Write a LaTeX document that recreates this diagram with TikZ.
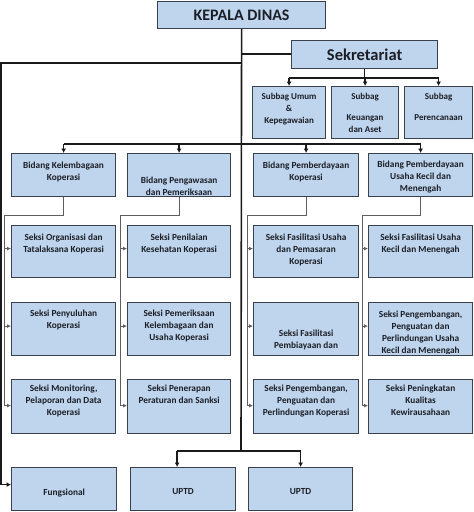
\documentclass[tikz,border=0pt]{standalone}
\usepackage{fontspec}
\setmainfont{Carlito}
\usetikzlibrary{positioning,arrows.meta}

\definecolor{boxfill}{RGB}{190,213,237}
\definecolor{boxline}{RGB}{58,64,76}
\definecolor{boxtext}{RGB}{28,30,38}
\definecolor{mainline}{RGB}{26,26,26}
\definecolor{subline}{RGB}{95,95,95}

\begin{document}
\begin{tikzpicture}[x=1pt, y=-1pt,
    main/.style={draw=mainline, line width=1.6pt},
    mainarrow/.style={main, -{Latex[length=4.5pt,width=5pt]}},
    sub/.style={draw=subline, line width=0.9pt},
    subarrow/.style={sub, -{Latex[length=4pt,width=4pt]}},
    txt/.style={anchor=north, inner sep=0pt, align=center, text=boxtext, font=\bfseries\fontsize{9.3}{12}\selectfont},
    subtxt/.style={txt, font=\bfseries\fontsize{9}{12}\selectfont}]
  \useasboundingbox (0,0) rectangle (474,512);

  % Boxes
  \begin{scope}[every node/.style={draw=boxline, fill=boxfill, line width=1.2pt, anchor=north west, inner sep=0pt, text=boxtext}]
    \node[minimum width=168, minimum height=27, font=\bfseries\fontsize{16}{19}\selectfont] (kepala) at (157,1) {KEPALA DINAS};
    \node[minimum width=146, minimum height=28, font=\bfseries\fontsize{16.5}{19}\selectfont] (sekr) at (291,40) {Sekretariat};

    \node[minimum width=73, minimum height=52] (sub1) at (252,86) {};
    \node[minimum width=67, minimum height=52] (sub2) at (331,86) {};
    \node[minimum width=68, minimum height=52] (sub3) at (404,86) {};

    \node[minimum width=104, minimum height=43] (bkel) at (11,153) {};
    \node[minimum width=103, minimum height=43] (bpeng) at (127,153) {};
    \node[minimum width=105, minimum height=43] (bkop) at (253,153) {};
    \node[minimum width=104, minimum height=43] (bukm) at (368,153) {};

    \node[minimum width=104, minimum height=52] (s11) at (11,225) {};
    \node[minimum width=104, minimum height=53] (s12) at (11,302) {};
    \node[minimum width=104, minimum height=54] (s13) at (11,379) {};

    \node[minimum width=103, minimum height=52] (s21) at (127,225) {};
    \node[minimum width=103, minimum height=53] (s22) at (127,302) {};
    \node[minimum width=103, minimum height=54] (s23) at (127,379) {};

    \node[minimum width=105, minimum height=52] (s31) at (253,225) {};
    \node[minimum width=105, minimum height=53] (s32) at (253,302) {};
    \node[minimum width=105, minimum height=54] (s33) at (253,379) {};

    \node[minimum width=104, minimum height=52] (s41) at (368,225) {};
    \node[minimum width=104, minimum height=53] (s42) at (368,302) {};
    \node[minimum width=104, minimum height=54] (s43) at (368,379) {};

    \node[minimum width=105, minimum height=43] (fung) at (11,467) {};
    \node[minimum width=105, minimum height=43] (uptd1) at (130,467) {};
    \node[minimum width=104, minimum height=43] (uptd2) at (248,467) {};
  \end{scope}

  % Texts
  \node[subtxt, below=6.7pt of sub1.north] (sub1-t) {Subbag Umum\\\&\\Kepegawaian};
  \node[subtxt, below=6.7pt of sub2.north] (sub2-t) {Subbag\\[9pt]Keuangan\\dan Aset};
  \node[subtxt, below=6.7pt of sub3.north] (sub3-t) {Subbag\\[9pt]Perencanaan};

  \node[txt, below=8.7pt of bkel.north] (bkel-t) {Bidang Kelembagaan\\Koperasi};
  \begin{scope}
    \clip ([yshift=2.5pt]bpeng.south west) rectangle (bpeng.north east);
    \node[txt, below=24pt of bpeng.north] (bpeng-t) {Bidang Pengawasan\\dan Pemeriksaan};
  \end{scope}
  \node[txt, below=8.7pt of bkop.north] (bkop-t) {Bidang Pemberdayaan\\Koperasi};
  \node[txt, below=7.7pt of bukm.north] (bukm-t) {Bidang Pemberdayaan\\Usaha Kecil dan\\Menengah};

  \node[txt, below=8.7pt of s11.north] (s11-t) {Seksi Organisasi dan\\Tatalaksana Koperasi};
  \node[txt, below=7.7pt of s12.north] (s12-t) {Seksi Penyuluhan\\Koperasi};
  \node[txt, below=5.7pt of s13.north] (s13-t) {Seksi Monitoring,\\Pelaporan dan Data\\Koperasi};

  \node[txt, below=8.7pt of s21.north] (s21-t) {Seksi Penilaian\\Kesehatan Koperasi};
  \node[txt, below=7.7pt of s22.north] (s22-t) {Seksi Pemeriksaan\\Kelembagaan dan\\Usaha Koperasi};
  \node[txt, below=5.7pt of s23.north] (s23-t) {Seksi Penerapan\\Peraturan dan Sanksi};

  \node[txt, below=8.7pt of s31.north] (s31-t) {Seksi Fasilitasi Usaha\\dan Pemasaran\\Koperasi};
  \node[txt, below=27.7pt of s32.north] (s32-t) {Seksi Fasilitasi\\Pembiayaan dan};
  \node[txt, below=5.7pt of s33.north] (s33-t) {Seksi Pengembangan,\\Penguatan dan\\Perlindungan Koperasi};

  \node[txt, below=8.7pt of s41.north] (s41-t) {Seksi Fasilitasi Usaha\\Kecil dan Menengah};
  \begin{scope}
    \clip ([yshift=3pt]s42.south west) rectangle (s42.north east);
    \node[txt, below=9pt of s42.north] (s42-t) {Seksi Pengembangan,\\Penguatan dan\\Perlindungan Usaha\\Kecil dan Menengah};
  \end{scope}
  \node[txt, below=5.7pt of s43.north] (s43-t) {Seksi Peningkatan\\Kualitas\\Kewirausahaan};

  \node[txt, below=21.7pt of fung.north] (fung-t) {Fungsional};
  \node[txt, below=21.7pt of uptd1.north] (uptd1-t) {UPTD};
  \node[txt, below=21.7pt of uptd2.north] (uptd2-t) {UPTD};

  % Trunk
  \coordinate (jsek) at (241,54);
  \coordinate (jleft) at (241,63);
  \coordinate (ledge) at (1.2,63);
  \coordinate (jsub) at (365,78);
  \coordinate (jbid) at (241,144);
  \coordinate (juptd) at (241,451);

  \draw[main] (kepala.south) -- (juptd);
  \draw[main] (jsek) -- (jsek -| sekr.west);
  \draw[mainarrow] (jleft) -- (ledge) |- ([yshift=4.5pt]fung.west);

  % Subbag
  \draw[main] (sekr.south) -- (sekr.south |- jsub);
  \draw[main] (sub1.north |- jsub) -- (sub3.north |- jsub);
  \draw[mainarrow] (sub1.north |- jsub) -- (sub1.north);
  \draw[mainarrow] (sub2.north |- jsub) -- (sub2.north);
  \draw[mainarrow] (sub3.north |- jsub) -- (sub3.north);

  % Bidang
  \draw[main] (bkel.north |- jbid) -- (bukm.north |- jbid);
  \draw[mainarrow] (bkel.north |- jbid) -- (bkel.north);
  \draw[mainarrow] (bpeng.north |- jbid) -- (bpeng.north);
  \draw[mainarrow] (bkop.north |- jbid) -- (bkop.north);
  \draw[mainarrow] (bukm.north |- jbid) -- (bukm.north);

  % Seksi
  \coordinate (c1) at (4.2,215);
  \coordinate (c2) at (120,215);
  \coordinate (c3) at (247,215);
  \coordinate (c4) at (362,215);

  \draw[sub] (bkel.south) |- (c1);
  \draw[subarrow] (c1) |- ([yshift=3pt]s11.west);
  \draw[subarrow] (c1) |- ([yshift=3pt]s12.west);
  \draw[subarrow] (c1) |- ([yshift=1pt]s13.west);

  \draw[sub] (bpeng.south) |- (c2);
  \draw[subarrow] (c2) |- ([yshift=3pt]s21.west);
  \draw[subarrow] (c2) |- ([yshift=3pt]s22.west);
  \draw[subarrow] (c2) |- ([yshift=1pt]s23.west);

  \draw[sub] (bkop.south) |- (c3);
  \draw[subarrow] (c3) |- ([yshift=3pt]s31.west);
  \draw[subarrow] (c3) |- ([yshift=3pt]s32.west);
  \draw[subarrow] (c3) |- ([yshift=1pt]s33.west);

  \draw[sub] (bukm.south) |- (c4);
  \draw[subarrow] (c4) |- ([yshift=3pt]s41.west);
  \draw[subarrow] (c4) |- ([yshift=3pt]s42.west);
  \draw[subarrow] (c4) |- ([yshift=1pt]s43.west);

  % UPTD
  \coordinate (u1) at ([xshift=-6pt]uptd1.north);
  \draw[main] (u1 |- juptd) -- (uptd2.north |- juptd);
  \draw[mainarrow] (u1 |- juptd) -- (u1);
  \draw[mainarrow] (uptd2.north |- juptd) -- (uptd2.north);
\end{tikzpicture}
\end{document}
